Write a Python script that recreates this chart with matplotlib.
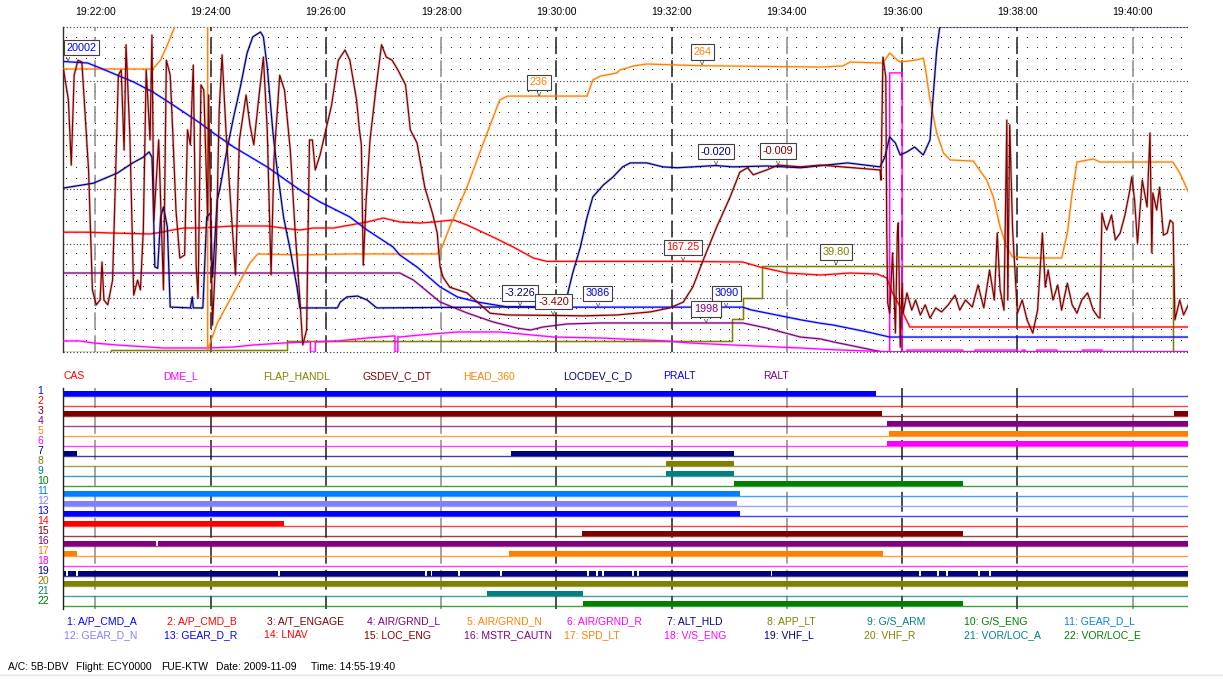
import matplotlib
matplotlib.use("Agg")
import matplotlib.pyplot as plt
import matplotlib.transforms as mtrans
from matplotlib.lines import Line2D
import numpy as np

plt.rcParams['font.family'] = ['Liberation Sans', 'DejaVu Sans']
FS = 7.5

W, H = 1223, 680

# time axis: seconds after 19:21:00
T_START, T_END = 26.7, 1197.6
tick_t = [60, 180, 300, 420, 540, 660, 780, 900, 1020, 1140]
tick_lbl = ["19:22:00", "19:24:00", "19:26:00", "19:28:00", "19:30:00",
            "19:32:00", "19:34:00", "19:36:00", "19:38:00", "19:40:00"]

# ---------------- analog parameters ----------------
cas_t = [27, 52, 76, 117, 124, 135, 152, 169, 204, 239, 263, 273, 287, 308, 343, 360, 377, 398,
         412, 433, 447, 474, 495, 516, 530, 672, 734, 752, 780, 815, 846, 874, 884, 890, 898, 908, 1198]
cas_v = [221, 221, 219.5, 217.7, 219.5, 223.2, 228.7, 228.7, 232.4, 232.4, 226.9, 225, 228.7, 228.7,
         239.8, 247.2, 239.8, 237.9, 239.8, 243.5, 234.2, 212.1, 193.7, 173.4, 167.25, 167.25, 166,
         156.8, 145.7, 142, 145.7, 143.9, 136.5, 108.8, 83, 46.1, 46.1]

dme_t = [27, 44, 58, 83, 131, 177, 204, 224, 256, 282, 284, 284, 289, 289, 312, 343, 370, 372, 372, 375,
         375, 377, 398, 437, 481, 537, 586, 655, 679, 724, 794, 835, 864, 887, 887, 900, 900, 905, 905, 963,
         963, 976, 976, 1020, 1020, 1025, 1025, 1028, 1028, 1040, 1040, 1061, 1061, 1088, 1088, 1108, 1108, 1198]
dme_v = [3.38, 3.38, 2.77, 2.15, 1.23, 1.23, 1.54, 2.15, 2.77, 3.07, 3.07, 0, 0, 3.1, 3.38, 4.30, 4.92, 4.92, 0, 0,
         4.7, 4.61, 5.23, 6.15, 6.15, 4.61, 4.30, 3.38, 2.77, 2.15, 1.23, 0.61, 0.31, 0, 85.8, 85.8, 0, 0, 0.6, 0.6,
         0, 0, 0.6, 0.6, 0, 0, 0.6, 0.6, 0, 0, 0.6, 0.6, 0, 0, 0.6, 0.6, 0, 0]

flap_t = [27, 76, 260, 723, 734, 754, 1182, 1198]
flap_v = [0, 1, 5, 15, 25, 39.8, 0, 0]

gs_t = [27, 32, 35, 38, 42, 46, 53, 57, 61, 65,
        67, 69, 73, 78, 81, 84, 87, 90, 92, 96,
        100, 104, 107, 110, 113, 117, 119, 121, 126, 131,
        134, 138, 141, 144, 148, 153, 156, 159, 162, 165,
        167, 170, 173, 177, 178, 182, 186, 189, 192, 196,
        200, 206, 210, 217, 221, 225, 230, 235, 239, 243,
        246, 252, 257, 263, 268, 273, 276, 280, 283, 286,
        289, 294, 300, 306, 313, 320, 325, 332, 335, 337,
        339, 342, 346, 352, 358, 363, 369, 375, 383, 388,
        395, 403, 411, 416, 419, 422, 429, 447, 458, 471,
        489, 537, 568, 603, 638, 658, 672, 682, 693, 707,
        721, 731, 739, 745, 759, 771, 794, 815, 877, 878,
        880, 883, 884, 885, 887, 890, 893, 895, 896, 898,
        900, 901, 905, 910, 914, 919, 924, 929, 935, 941,
        948, 955, 960, 966, 973, 979, 985, 991, 996, 999,
        1002, 1006, 1009, 1010, 1012, 1015, 1020, 1025, 1030, 1036,
        1041, 1046, 1049, 1052, 1057, 1062, 1066, 1072, 1077, 1082,
        1087, 1093, 1099, 1104, 1106, 1108, 1111, 1113, 1118, 1122,
        1127, 1132, 1137, 1139, 1142, 1145, 1150, 1155, 1158, 1160,
        1161, 1165, 1168, 1172, 1176, 1179, 1182, 1184, 1189, 1193,
        1198]
gs_v = [2.15, 1.47, -0.01, 2.03, 2.37, 2.33, -0.12, -2.84, -3.18, -3.07,
        -2.21, -3.07, -3.18, -2.62, -0.35, 2.03, 2.15, 0.33, 2.72, 0.67,
        -2.96, -2.62, -2.84, -1.48, 2.15, 0.56, 2.94, -1.26, 0.56, -2.84,
        2.37, 2.03, 0.56, -1.03, -2.12, -2.05, 0.79, 0.45, 2.26, -2.28,
        -3.03, 1.81, 1.69, -1.26, 1.58, -3.64, -1.82, 1.24, 2.49, 0.79,
        -0.58, -2.50, 0.56, 1.58, 0.90, 0.45, 1.47, 2.44, 0.79, -2.50,
        0.11, 2.03, 1.69, 0.33, -1.48, -3.07, -4.09, -3.75, 0.56, 0.56,
        -0.12, 0.22, 0.79, 1.35, 2.37, 2.60, 2.37, 1.47, 0.79, 0.45,
        -2.28, -0.80, 0.56, 1.69, 2.72, 2.44, 2.37, 2.15, 1.81, 0.79,
        0.49, -0.51, -1.10, -1.55, -2.32, -2.55, -2.78, -2.91, -3.12, -3.37,
        -3.41, -3.420, -3.43, -3.41, -3.34, -3.25, -3.12, -2.78, -2.16, -1.41,
        -0.73, -0.17, -0.07, -0.23, -0.12, -0.009, -0.05, -0.01, -0.12, -0.35,
        2.44, 1.99, -1.55, -3.14, -3.37, -2.00, -3.82, -1.55, -1.32, -4.14,
        -2.69, -3.37, -2.91, -3.30, -3.07, -3.41, -3.18, -3.48, -3.25, -3.34,
        -3.18, -2.96, -3.30, -3.07, -3.23, -2.73, -3.25, -2.39, -3.07, -1.55,
        -2.84, -3.30, 1.01, -3.07, 0.90, -1.48, -3.37, -3.07, -3.52, -3.82,
        -3.30, -1.55, -2.78, -2.39, -3.07, -2.73, -3.30, -2.69, -3.18, -3.37,
        -3.07, -2.91, -3.30, -3.46, -3.48, -1.10, -1.37, -1.48, -1.14, -1.71,
        -1.55, -1.14, -0.58, -0.28, -0.80, -1.78, -0.35, -0.96, 0.72, -2.00,
        -0.64, -1.03, -0.51, -1.60, -1.55, -1.26, -1.32, -3.52, -3.07, -3.41,
        -3.18]

head_t = [27, 120, 128, 135, 143, 160, 177, 177, 187, 204, 221, 229, 273, 325, 377, 416, 421, 429, 447, 464,
          481, 489, 572, 578, 586, 603, 606, 620, 634, 692, 815, 838, 846, 880, 887, 895, 898, 915, 922, 924,
          929, 936, 943, 950, 974, 988, 995, 1002, 1009, 1015, 1036, 1066, 1072, 1077, 1082, 1099, 1106, 1182,
          1189, 1198]
head_v = [261, 261, 269.3, 283.1, 300.6, 330, 358, 2, 26.7, 54.4, 82.1, 90.4, 89.5, 90.4, 90.4, 90.4, 96.8,
          115.3, 152.2, 192.7, 232.4, 236, 236, 250.8, 254.5, 257.3, 260, 263.7, 265.6, 264, 262.8, 263.7, 267.4,
          266.5, 275.7, 269.3, 267.4, 269.3, 271.1, 262.8, 232.4, 202, 183.5, 177.1, 176.1, 158.6, 142.9, 115.3,
          96.8, 87.6, 86.7, 86.7, 109.7, 146.6, 175.2, 178, 175.2, 175.2, 165.1, 147.6]

loc_t = [27, 58, 83, 99, 110, 116, 119, 120, 122, 125, 128, 131, 135, 138, 159, 161, 162, 172, 176, 180,
         182, 183, 187, 190, 197, 204, 211, 218, 224, 232, 235, 239, 242, 245, 249, 256, 263, 270, 273, 312,
         315, 322, 333, 343, 353, 502, 550, 552, 557, 565, 572, 578, 589, 599, 609, 617, 634, 651, 666, 706,
         724, 759, 794, 843, 877, 882, 887, 893, 898, 905, 913, 922, 929, 932, 936, 939, 940, 1198]
loc_v = [-0.53, -0.42, -0.19, 0.04, 0.17, 0.29, 0.17, -0.51, -2.32, -2.35, -1.19, -0.96, -1.41, -3.23, -3.25,
         -3.00, -3.25, -3.25, -1.19, -1.10, -2.55, -2.23, -0.80, -0.51, 0.33, 1.08, 1.76, 2.53, 2.90, 3.01,
         2.90, 2.22, 1.47, 0.72, -0.05, -1.19, -1.94, -2.78, -3.25, -3.25, -3.12, -3.00, -2.98, -3.07, -3.25,
         -3.226, -3.23, -2.91, -2.46, -1.87, -1.19, -0.73, -0.46, -0.28, -0.05, 0.04, 0.04, -0.05, -0.07, -0.020,
         -0.05, -0.03, -0.07, 0.04, -0.05, 0.17, 0.63, 0.49, 0.22, 0.29, 0.40, 0.22, 0.56, 1.47, 2.60, 3.10,
         3.13, 3.13]

pralt_t = [27, 52, 65, 100, 120, 141, 169, 183, 204, 239, 273, 294, 325, 343, 370, 377, 395, 419, 437, 458,
           489, 520, 583, 650, 717, 734, 742, 794, 815, 828, 864, 887, 905, 1198]
pralt_v = [20002, 19900, 19560, 18590, 17900, 17010, 15770, 15080, 14120, 12740, 11160, 10330, 9300, 8400,
           7230, 6680, 5850, 4480, 3790, 3440, 3100, 3086, 3086, 3088, 3090, 3090, 2910, 2220, 1980, 1860,
           1380, 1030, 1030, 1030]

ralt_t = [27, 377, 391, 395, 419, 447, 474, 499, 513, 526, 551, 586, 655, 696, 724, 734, 759, 794, 815, 828,
          864, 874, 880, 1198]
ralt_v = [5440, 5440, 4960, 4750, 3440, 2690, 2070, 1650, 1510, 1720, 1930, 1998, 1998, 1998, 2000, 1998,
          1650, 1030, 900, 700, 210, 70, 0, 0]

param_names = ["CAS", "DME_L", "FLAP_HANDL", "GSDEV_C_DT", "HEAD_360", "LOCDEV_C_D", "PRALT", "RALT"]
param_colors = ["#ff0000", "#ff00ff", "#808000", "#800000", "#ff8000", "#000080", "#0000ff", "#800080"]
param_data = {"CAS": (cas_t, cas_v), "DME_L": (dme_t, dme_v), "FLAP_HANDL": (flap_t, flap_v),
              "GSDEV_C_DT": (gs_t, gs_v), "HEAD_360": (head_t, head_v), "LOCDEV_C_D": (loc_t, loc_v),
              "PRALT": (pralt_t, pralt_v), "RALT": (ralt_t, ralt_v)}
param_range = {"CAS": (0, 600), "DME_L": (0, 100), "FLAP_HANDL": (0, 150), "GSDEV_C_DT": (-4.25, 3.13),
               "HEAD_360": (0, 300), "LOCDEV_C_D": (-4.25, 3.13), "PRALT": (0, 22400), "RALT": (0, 22400)}
draw_order = ["FLAP_HANDL", "RALT", "DME_L", "CAS", "HEAD_360", "PRALT", "LOCDEV_C_D", "GSDEV_C_DT"]

# value tags: parameter, time, value, text
tags = [("PRALT", 32, 20002, "20002"), ("HEAD_360", 522, 236, "236"), ("HEAD_360", 692, 264, "264"),
        ("LOCDEV_C_D", 706, -0.020, "-0.020"), ("GSDEV_C_DT", 771, -0.009, "-0.009"),
        ("CAS", 672, 167.25, "167.25"), ("LOCDEV_C_D", 502, -3.226, "-3.226"),
        ("GSDEV_C_DT", 537, -3.420, "-3.420"), ("PRALT", 583, 3086, "3086"), ("PRALT", 717, 3090, "3090"),
        ("RALT", 696, 1998, "1998"), ("FLAP_HANDL", 831, 39.80, "39.80")]

# ---------------- discrete parameters ----------------
disc_names = ["A/P_CMD_A", "A/P_CMD_B", "A/T_ENGAGE", "AIR/GRND_L", "AIR/GRND_N", "AIR/GRND_R", "ALT_HLD",
              "APP_LT", "G/S_ARM", "G/S_ENG", "GEAR_D_L", "GEAR_D_N", "GEAR_D_R", "LNAV", "LOC_ENG",
              "MSTR_CAUTN", "SPD_LT", "V/S_ENG", "VHF_L", "VHF_R", "VOR/LOC_A", "VOR/LOC_E"]
disc_colors = ["#0000ff", "#ff0000", "#800000", "#800080", "#ff8000", "#ff00ff", "#000080", "#808000",
               "#008080", "#008000", "#0080ff", "#8080ff", "#0000ff", "#ff0000", "#800000", "#800080",
               "#ff8000", "#ff00ff", "#000080", "#808000", "#008080", "#008000"]
disc_on = [
    [(27, 873)],
    [],
    [(27, 879), (1183, 1198)],
    [(884, 1198)],
    [(886, 1198)],
    [(884, 1198)],
    [(27, 41), (493, 725)],
    [(654, 725)],
    [(654, 725)],
    [(725, 963)],
    [(27, 731)],
    [(27, 728)],
    [(27, 731)],
    [(27, 256)],
    [(567, 963)],
    [(27, 123), (125, 1198)],
    [(27, 41), (491, 880)],
    [],
    [(27, 30), (32, 40), (42, 250), (252, 403), (405, 409), (411, 438), (440, 481), (483, 572),
     (574, 581), (583, 588), (590, 619), (621, 624), (626, 763), (765, 918), (920, 936), (938, 946),
     (948, 979), (981, 990), (992, 1198)],
    [(27, 1198)],
    [(468, 568)],
    [(568, 963)],
]

footer = [(8.3, "A/C: 5B-DBV"), (76, "Flight: ECY0000"), (160.7, "FUE-KTW"),
          (216, "Date: 2009-11-09"), (310.7, "Time: 14:55-19:40")]


def rect(l, t, r, b):
    return [l / W, 1 - b / H, (r - l) / W, (b - t) / H]


def fy(y):
    return 1 - y / H


fig = plt.figure(figsize=(W / 100, H / 100), dpi=100)
fig.patch.set_facecolor("white")

# ---- analog chart ----
ax = fig.add_axes(rect(63.3, 26.7, 1188, 352))
ax.set_xlim(T_START, T_END)
ax.set_ylim(0, 1)
for s in ["top", "right", "bottom"]:
    ax.spines[s].set_visible(False)
ax.spines["left"].set_color("#303030")
ax.spines["left"].set_linewidth(1.0)
ax.set_yticks([])
ax.set_xticks(tick_t, tick_lbl)
ax.tick_params(axis="x", top=True, bottom=False, labeltop=True, labelbottom=False,
               length=0, pad=7, labelsize=FS, labelcolor="#000000")

# dot lattice and dotted rows
gx = np.arange(30, 1198, 10)
gy = np.array([k / 30 for k in range(1, 30) if k % 5])
GX, GY = np.meshgrid(gx, gy)
ax.plot(GX.ravel(), GY.ravel(), ",", color="#202020", zorder=1)
for k in range(7):
    ax.axhline(k / 6, color="#303030", lw=0.8, ls=(0, (1, 2)), clip_on=False, zorder=1)
for i, t in enumerate(tick_t):
    c = "#8c8c8c" if i % 3 == 0 else "#1e1e1e"
    ax.axvline(t, color=c, lw=1.1, ls=(0, (11, 4)), zorder=1.5)

for name in draw_order:
    c = param_colors[param_names.index(name)]
    t, v = param_data[name]
    lo, hi = param_range[name]
    y = (np.asarray(v, dtype=float) - lo) / (hi - lo)
    ds = "steps-post" if name == "FLAP_HANDL" else "default"
    ax.plot(t, y, color=c, lw=2.0, alpha=0.2, drawstyle=ds, zorder=2)
    ax.plot(t, y, color=c, lw=0.9, drawstyle=ds, zorder=3)

for name, t, v, txt in tags:
    c = param_colors[param_names.index(name)]
    lo, hi = param_range[name]
    y = (v - lo) / (hi - lo)
    ha, dxp = ("left", -1.5) if t < 60 else ("center", 0)
    ax.annotate(txt, (t, y), xytext=(dxp, 10), textcoords="offset points", ha=ha, va="center",
                fontsize=FS + 0.3, color=c, zorder=10, annotation_clip=False,
                bbox=dict(boxstyle="square,pad=0.25", fc="white", ec="#404040", lw=0.8))
    ax.annotate("v", (t, y), xytext=(0, 0.3), textcoords="offset points", ha="center",
                va="baseline", fontsize=6, color="#404040", zorder=11)

# ---- parameter name row ----
for k, (name, c) in enumerate(zip(param_names, param_colors)):
    fig.text((63 + 100 * k) / W, fy(375.7), name, color=c, fontsize=FS, ha="left", va="center")

# ---- discrete chart ----
dx = fig.add_axes(rect(63.3, 385.7, 1188, 615.7))
dx.set_xlim(T_START, T_END)
dx.set_ylim(23, 0)
dx.axis("off")
for i, t in enumerate(tick_t):
    c = "#8c8c8c" if i % 3 == 0 else "#1e1e1e"
    dx.plot([t, t], [0.25, 22.35], color=c, lw=1.1, ls=(0, (13, 4)), zorder=1)
dx.plot([T_START, T_START], [0.25, 22.35], color="#202020", lw=1.0, clip_on=False, zorder=4)

lab_tr = mtrans.blended_transform_factory(fig.transFigure, dx.transData)
for i, (c, ons) in enumerate(zip(disc_colors, disc_on), start=1):
    dx.hlines(i, T_START, T_END, color=c, lw=1.0, alpha=0.75, zorder=2)
    if ons:
        dx.broken_barh([(a, b - a) for a, b in ons], (i - 0.45, 0.5), facecolor=c,
                       edgecolor="none", zorder=3)
    dx.text(37.5 / W, i - 0.5, str(i), transform=lab_tr, color=c, fontsize=FS, ha="left", va="center")

# ---- legend ----
for k, (name, c) in enumerate(zip(disc_names, disc_colors)):
    col, row = k % 11, k // 11
    x = 66.7 + 100 * col - (2.7 if k >= 9 else 0)
    fig.text(x / W, fy(621 + 14 * row), f"{k + 1}: {name}", color=c,
             fontsize=FS, ha="left", va="center")

# ---- footer ----
for x, txt in footer:
    fig.text(x / W, fy(667), txt, color="#000000", fontsize=FS, ha="left", va="center")
fig.add_artist(Line2D([0, 1], [fy(675), fy(675)], color="#e6e6e6", lw=1))

fig.savefig("out.png", dpi=100, facecolor="white")
